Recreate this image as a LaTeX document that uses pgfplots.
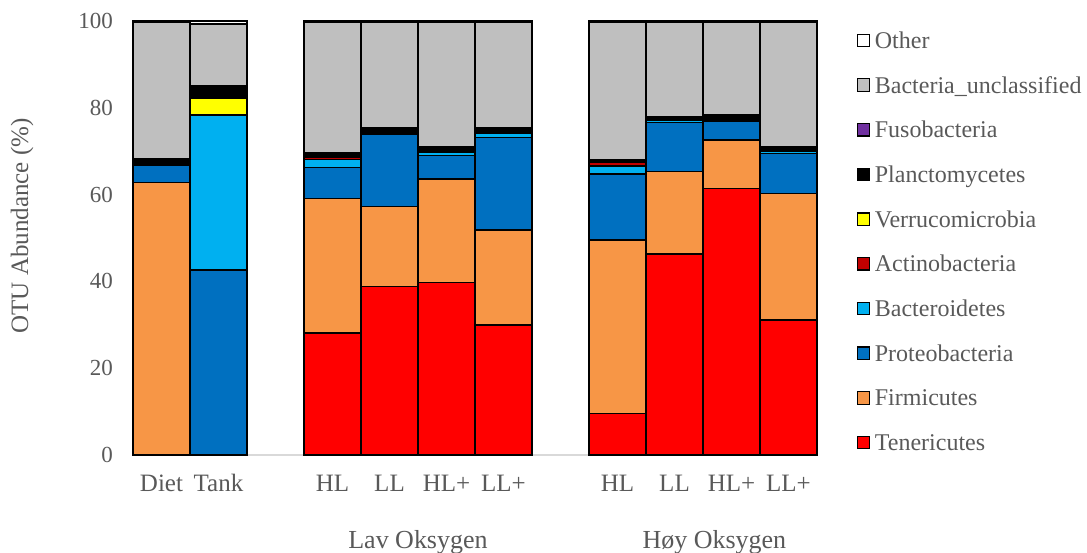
\documentclass[border=0pt]{standalone}
\usepackage{fontspec}
\setmainfont{Liberation Serif}
\usepackage{pgfplots}
\usepackage{pgfplotstable}
\pgfplotsset{compat=1.18}
\definecolor{cTen}{HTML}{FF0000}
\definecolor{cFir}{HTML}{F79646}
\definecolor{cPro}{HTML}{0070C0}
\definecolor{cBac}{HTML}{00B0F0}
\definecolor{cAct}{HTML}{C00000}
\definecolor{cVer}{HTML}{FFFF00}
\definecolor{cPla}{HTML}{000000}
\definecolor{cFus}{HTML}{7030A0}
\definecolor{cUnc}{HTML}{BFBFBF}
\definecolor{cOth}{HTML}{FFFFFF}
\definecolor{txt}{HTML}{595959}
\pgfplotstableread{
x  Ten  Fir  Pro  Bac  Act  Ver  Pla  Fus  Unc  Oth
0  0    62.8 4.0  0    0    0    1.4  0    31.6 0.2
1  0    0    42.6 35.7 0    4.0  2.7  0    14.3 0.7
3  28.1 31.0 7.1  1.9  0.5  0    1.0  0    30.1 0.3
4  38.8 18.4 16.8 0.2  0.1  0    1.0  0    24.4 0.3
5  39.8 23.8 5.4  0.8  0.1  0    1.1  0    28.8 0.2
6  29.9 21.9 21.4 1.0  0.4  0    0.8  0    24.3 0.3
8  9.6  39.9 15.2 1.9  0.9  0    0.5  0    31.6 0.4
9  46.3 19.0 11.3 0.6  0.1  0    0.6  0    21.8 0.3
10 61.4 11.2 4.4  0.3  0.2  0    0.8  0    21.5 0.2
11 31.1 29.2 9.2  0.4  0.3  0    0.8  0    28.7 0.3
}\data
\begin{document}
\begin{tikzpicture}
\useasboundingbox (-133bp,-98bp) rectangle (954bp,455bp);
\begin{axis}[
  at={(0,0)}, anchor=south west,
  scale only axis,
  width=684bp, height=434bp,
  ybar stacked, bar width=1,
  xmin=-0.5, xmax=11.5, ymin=0, ymax=100,
  xtick={0,1,3,4,5,6,8,9,10,11},
  xticklabels={Diet,Tank,HL,LL,HL+,LL+,HL,LL,HL+,LL+},
  ytick={0,20,...,100},
  major tick length=0pt,
  axis lines*=left,
  axis line style={-},
  y axis line style={draw=none},
  x axis line style={draw=black!15, line width=1.2pt},
  /pgf/number format/assume math mode=true,
  yticklabel style={font=\fontsize{23bp}{27bp}\selectfont, text=txt, anchor=east, inner sep=0pt, xshift=-20bp},
  xticklabel style={font=\fontsize{25bp}{29bp}\selectfont, text=txt, anchor=base, inner sep=0pt, yshift=-36.5bp},
  ylabel={OTU Abundance (\%)},
  every axis y label/.style={at={(axis description cs:-0.1623,0.528)}, rotate=90, anchor=center,
     font=\fontsize{25bp}{29bp}\selectfont, text=txt},
  every axis plot/.append style={draw=black, line width=1.5pt},
  legend style={at={(1,1)}, anchor=north west, xshift=40bp, yshift=-10.3bp,
    draw=none, fill=none, font=\fontsize{24bp}{28bp}\selectfont, text=txt,
    inner sep=0pt, outer sep=0pt,
    nodes={inner sep=0pt, outer sep=0pt, text height=17bp, text depth=5bp},
    row sep=22.7bp, column sep=4.5bp, cells={anchor=base west}},
  reverse legend,
  legend image code/.code={\draw[#1, line width=1.2pt] (0bp,1.8bp) rectangle (12.2bp,14.2bp);},
  clip=false,
]
\addplot[fill=cTen] table[x=x,y=Ten]{\data}; \addlegendentry{Tenericutes}
\addplot[fill=cFir] table[x=x,y=Fir]{\data}; \addlegendentry{Firmicutes}
\addplot[fill=cPro] table[x=x,y=Pro]{\data}; \addlegendentry{Proteobacteria}
\addplot[fill=cBac] table[x=x,y=Bac]{\data}; \addlegendentry{Bacteroidetes}
\addplot[fill=cAct] table[x=x,y=Act]{\data}; \addlegendentry{Actinobacteria}
\addplot[fill=cVer] table[x=x,y=Ver]{\data}; \addlegendentry{Verrucomicrobia}
\addplot[fill=cPla] table[x=x,y=Pla]{\data}; \addlegendentry{Planctomycetes}
\addplot[fill=cFus] table[x=x,y=Fus]{\data}; \addlegendentry{Fusobacteria}
\addplot[fill=cUnc] table[x=x,y=Unc]{\data}; \addlegendentry{Bacteria\_unclassified}
\addplot[fill=cOth] table[x=x,y=Oth]{\data}; \addlegendentry{Other}
\node[text=txt, anchor=base, inner sep=0pt, font=\fontsize{26bp}{30bp}\selectfont] at (axis cs:4.5,0) [yshift=-93bp] {Lav Oksygen};
\node[text=txt, anchor=base, inner sep=0pt, font=\fontsize{26bp}{30bp}\selectfont] at (axis cs:9.7,0) [yshift=-93bp] {Høy Oksygen};
\end{axis}
\end{tikzpicture}
\end{document}
